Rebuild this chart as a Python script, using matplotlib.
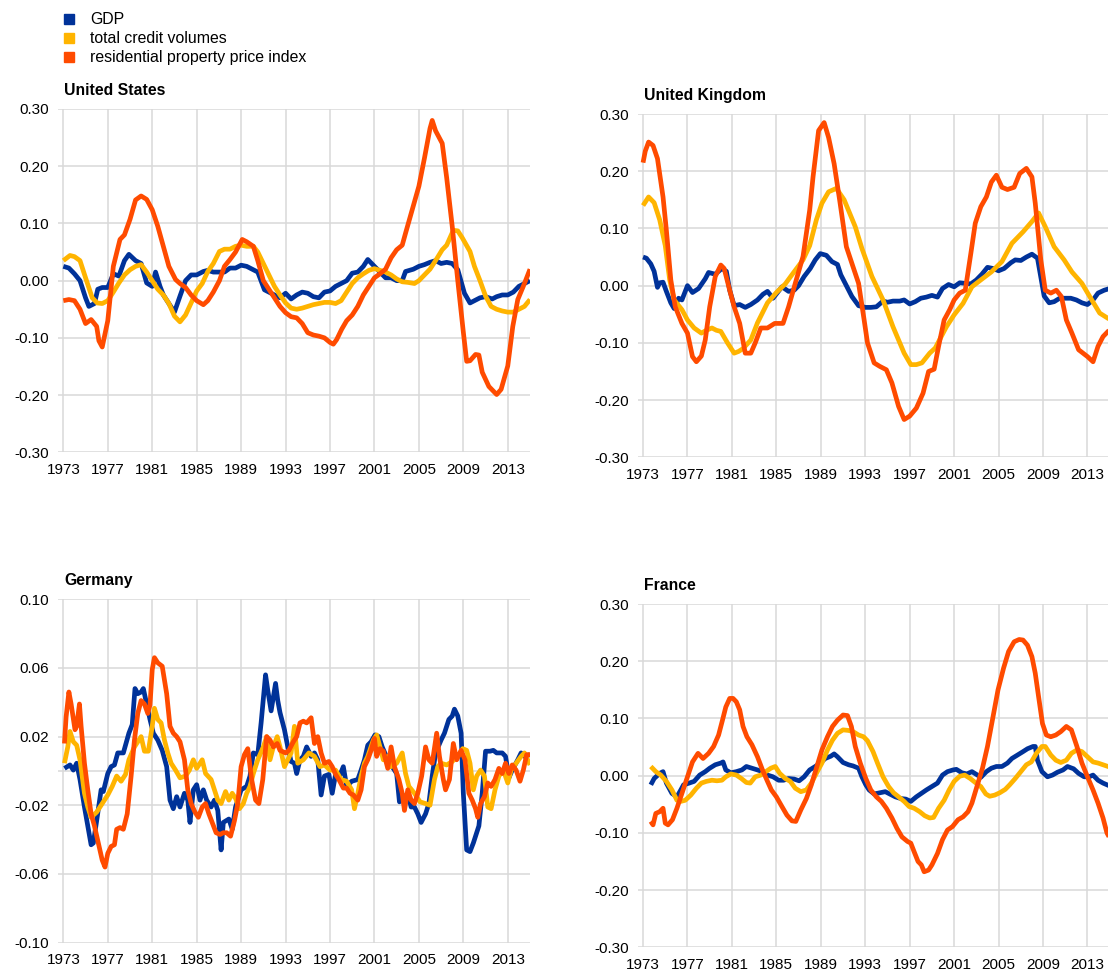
#!/usr/bin/env python3
"""
Cyclical components of GDP, credit and house prices: US, UK, Germany, France
"""

import matplotlib
matplotlib.use('Agg')
import matplotlib.pyplot as plt
from matplotlib.lines import Line2D

# Colours and labels
BLUE = "#003299"
YELLOW = "#FFB400"
ORANGE = "#FF4B00"
GRID = "#d9d9d9"
SERIES_LABELS = ["GDP", "total credit volumes", "residential property price index"]
YEAR_TICKS = list(range(1973, 2014, 4))

# ---- United States (year, value) ----
us_gdp = [(1973.0, 0.025), (1973.5, 0.022), (1974.0, 0.012), (1974.5, 0.0), (1975.0, -0.03), (1975.3, -0.045),
          (1975.8, -0.04), (1976.1, -0.015), (1976.5, -0.012), (1977.0, -0.012), (1977.5, 0.012), (1978.0, 0.008),
          (1978.5, 0.035), (1978.9, 0.046), (1979.5, 0.035), (1980.0, 0.03), (1980.5, -0.004), (1981.0, -0.01),
          (1981.3, 0.015), (1981.7, -0.01), (1982.0, -0.025), (1982.5, -0.04), (1983.0, -0.055), (1983.5, -0.027),
          (1984.0, 0.0), (1984.5, 0.01), (1985.0, 0.01), (1985.6, 0.016), (1986.0, 0.018), (1986.5, 0.015),
          (1987.0, 0.015), (1987.5, 0.015), (1988.0, 0.022), (1988.5, 0.022), (1989.0, 0.027), (1989.5, 0.025),
          (1990.0, 0.02), (1990.5, 0.015), (1991.1, -0.016), (1991.5, -0.02), (1992.0, -0.025), (1992.5, -0.03),
          (1993.0, -0.022), (1993.5, -0.032), (1994.0, -0.025), (1994.5, -0.02), (1995.0, -0.022), (1995.5, -0.028),
          (1996.0, -0.03), (1996.5, -0.02), (1997.0, -0.018), (1997.5, -0.01), (1998.0, -0.005), (1998.5, 0.0),
          (1999.0, 0.013), (1999.5, 0.015), (2000.0, 0.025), (2000.4, 0.037), (2001.0, 0.025), (2001.5, 0.015),
          (2002.0, 0.005), (2002.5, 0.005), (2003.0, 0.0), (2003.5, 0.0), (2003.8, 0.016), (2004.5, 0.02),
          (2005.0, 0.025), (2005.5, 0.028), (2006.0, 0.032), (2006.5, 0.035), (2007.0, 0.03), (2007.5, 0.032),
          (2008.0, 0.03), (2008.5, 0.019), (2009.1, -0.022), (2009.6, -0.039), (2010.0, -0.035), (2010.5, -0.03),
          (2011.0, -0.028), (2011.6, -0.032), (2012.0, -0.028), (2012.5, -0.025), (2013.0, -0.025), (2013.5, -0.02),
          (2014.0, -0.01), (2014.5, -0.005), (2015.0, 0.0)]
us_credit = [(1973.0, 0.035), (1973.6, 0.044), (1974.0, 0.042), (1974.5, 0.035), (1975.0, 0.005), (1975.6, -0.03),
             (1976.05, -0.039), (1976.5, -0.04), (1977.0, -0.035), (1977.5, -0.02), (1978.0, -0.004), (1978.5, 0.01),
             (1979.0, 0.019), (1979.5, 0.025), (1980.0, 0.028), (1980.5, 0.015), (1981.0, 0.0), (1981.5, -0.015),
             (1982.0, -0.025), (1982.5, -0.04), (1983.0, -0.062), (1983.5, -0.072), (1984.0, -0.06), (1984.5, -0.039),
             (1985.0, -0.018), (1985.5, -0.005), (1986.0, 0.016), (1986.5, 0.03), (1987.05, 0.051), (1987.5, 0.055),
             (1988.0, 0.055), (1988.5, 0.06), (1989.0, 0.062), (1989.5, 0.06), (1990.1, 0.06), (1990.5, 0.05),
             (1991.0, 0.03), (1991.5, 0.01), (1992.0, -0.01), (1992.5, -0.025), (1993.0, -0.039), (1993.5, -0.048),
             (1994.0, -0.05), (1994.5, -0.048), (1995.0, -0.045), (1995.5, -0.042), (1996.0, -0.04), (1996.5, -0.038),
             (1997.0, -0.038), (1997.5, -0.04), (1998.0, -0.035), (1998.5, -0.02), (1999.0, -0.005), (1999.5, 0.005),
             (2000.0, 0.012), (2000.5, 0.018), (2001.0, 0.021), (2001.5, 0.018), (2002.0, 0.015), (2002.5, 0.01),
             (2003.0, 0.003), (2003.5, -0.002), (2004.0, -0.003), (2004.6, -0.005), (2005.0, 0.0), (2005.5, 0.01),
             (2006.0, 0.02), (2006.5, 0.035), (2007.1, 0.054), (2007.5, 0.062), (2008.1, 0.088), (2008.5, 0.087),
             (2008.9, 0.075), (2009.6, 0.051), (2010.0, 0.025), (2010.5, 0.0), (2011.0, -0.027), (2011.5, -0.045),
             (2012.0, -0.05), (2012.5, -0.053), (2013.0, -0.055), (2013.5, -0.055), (2014.0, -0.05), (2014.5, -0.045),
             (2015.0, -0.033)]
us_property = [(1973.0, -0.035), (1973.5, -0.033), (1974.0, -0.035), (1974.5, -0.05), (1975.0, -0.075), (1975.5, -0.068),
               (1976.0, -0.08), (1976.2, -0.105), (1976.5, -0.116), (1977.0, -0.07), (1977.5, 0.025), (1978.1, 0.072),
               (1978.5, 0.08), (1979.0, 0.107), (1979.5, 0.141), (1980.0, 0.148), (1980.5, 0.142), (1981.0, 0.124),
               (1981.5, 0.095), (1982.0, 0.06), (1982.5, 0.025), (1983.1, 0.002), (1983.5, -0.005), (1984.0, -0.012),
               (1984.5, -0.025), (1985.0, -0.035), (1985.6, -0.042), (1986.0, -0.035), (1986.5, -0.02), (1987.05, 0.0),
               (1987.5, 0.025), (1988.0, 0.037), (1988.5, 0.05), (1989.1, 0.072), (1989.5, 0.068), (1990.1, 0.06),
               (1990.5, 0.035), (1991.0, 0.0), (1991.5, -0.015), (1992.0, -0.03), (1992.5, -0.045), (1993.0, -0.056),
               (1993.5, -0.063), (1994.0, -0.065), (1994.5, -0.075), (1995.0, -0.091), (1995.5, -0.095), (1996.0, -0.097),
               (1996.5, -0.1), (1997.0, -0.108), (1997.3, -0.111), (1997.6, -0.103), (1998.05, -0.085), (1998.5, -0.07),
               (1999.0, -0.06), (1999.5, -0.045), (2000.0, -0.025), (2000.5, -0.01), (2001.0, 0.005), (2001.5, 0.012),
               (2002.0, 0.02), (2002.5, 0.04), (2003.0, 0.054), (2003.5, 0.062), (2003.8, 0.083), (2004.4, 0.124),
               (2005.0, 0.165), (2005.5, 0.214), (2006.0, 0.266), (2006.2, 0.28), (2006.5, 0.262), (2007.1, 0.24),
               (2007.5, 0.18), (2008.0, 0.095), (2008.5, 0.0), (2009.0, -0.09), (2009.3, -0.141), (2009.6, -0.14),
               (2010.1, -0.129), (2010.4, -0.13), (2010.7, -0.16), (2011.3, -0.185), (2012.0, -0.199), (2012.4, -0.19),
               (2013.0, -0.149), (2013.45, -0.08), (2013.9, -0.033), (2014.5, -0.005), (2015.0, 0.02)]

# ---- United Kingdom ----
uk_gdp = [(1973.0, 0.05), (1973.3, 0.048), (1973.7, 0.038), (1974.0, 0.025), (1974.3, -0.003), (1974.5, 0.005),
          (1974.8, 0.006), (1975.1, -0.01), (1975.5, -0.03), (1975.8, -0.04), (1976.2, -0.022), (1976.5, -0.025),
          (1977.0, 0.0), (1977.45, -0.012), (1978.0, -0.005), (1978.6, 0.012), (1978.9, 0.023), (1979.5, 0.02),
          (1980.1, 0.03), (1980.5, 0.025), (1980.8, -0.008), (1981.2, -0.035), (1981.7, -0.033), (1982.2, -0.038),
          (1982.7, -0.033), (1983.3, -0.025), (1983.8, -0.015), (1984.2, -0.01), (1984.7, -0.022), (1985.5, -0.002),
          (1986.1, -0.01), (1986.6, -0.008), (1987.0, 0.0), (1987.5, 0.016), (1988.05, 0.03), (1988.5, 0.045),
          (1988.95, 0.056), (1989.5, 0.053), (1990.0, 0.042), (1990.5, 0.037), (1990.8, 0.019), (1991.3, 0.0),
          (1991.8, -0.019), (1992.4, -0.035), (1993.0, -0.038), (1993.5, -0.038), (1994.0, -0.037), (1994.6, -0.027),
          (1995.0, -0.029), (1995.5, -0.027), (1996.1, -0.027), (1996.5, -0.025), (1997.0, -0.032), (1997.5, -0.028),
          (1998.0, -0.022), (1998.5, -0.02), (1999.0, -0.017), (1999.5, -0.02), (1999.95, -0.005), (2000.5, 0.002),
          (2001.0, -0.002), (2001.5, 0.005), (2002.0, 0.004), (2002.5, 0.003), (2003.0, 0.01), (2003.5, 0.02),
          (2004.0, 0.032), (2004.5, 0.03), (2005.0, 0.026), (2005.5, 0.03), (2006.1, 0.04), (2006.5, 0.045),
          (2007.0, 0.044), (2007.5, 0.05), (2008.0, 0.055), (2008.5, 0.048), (2008.8, 0.015), (2009.1, -0.018),
          (2009.55, -0.03), (2010.0, -0.028), (2010.5, -0.022), (2011.0, -0.022), (2011.5, -0.022), (2012.0, -0.025),
          (2012.5, -0.03), (2013.0, -0.033), (2013.5, -0.025), (2013.95, -0.013), (2014.5, -0.008), (2015.0, -0.005)]
uk_credit = [(1973.0, 0.14), (1973.5, 0.155), (1974.0, 0.145), (1974.5, 0.115), (1975.0, 0.07), (1975.4, 0.01),
             (1975.8, -0.025), (1976.5, -0.042), (1977.0, -0.06), (1977.6, -0.074), (1978.25, -0.083), (1978.7, -0.078),
             (1979.2, -0.074), (1979.6, -0.078), (1980.0, -0.08), (1980.6, -0.1), (1981.2, -0.118), (1981.6, -0.115),
             (1982.0, -0.11), (1982.7, -0.095), (1983.3, -0.065), (1984.2, -0.03), (1985.0, -0.012), (1985.8, 0.003),
             (1986.4, 0.019), (1987.4, 0.045), (1988.0, 0.07), (1988.6, 0.115), (1989.1, 0.144), (1989.7, 0.164),
             (1990.4, 0.17), (1991.1, 0.15), (1992.1, 0.103), (1992.7, 0.065), (1993.6, 0.016), (1994.6, -0.025),
             (1995.5, -0.072), (1996.5, -0.118), (1997.1, -0.138), (1997.6, -0.138), (1998.1, -0.135), (1998.8, -0.118),
             (1999.3, -0.109), (2000.3, -0.072), (2001.0, -0.051), (2001.8, -0.031), (2002.6, -0.002), (2003.4, 0.01),
             (2004.35, 0.024), (2005.3, 0.042), (2006.2, 0.074), (2007.2, 0.094), (2008.0, 0.112), (2008.6, 0.127),
             (2009.2, 0.103), (2010.0, 0.068), (2010.9, 0.045), (2011.6, 0.024), (2012.5, 0.004), (2013.2, -0.019),
             (2014.1, -0.048), (2015.0, -0.059)]
uk_property = [(1973.0, 0.215), (1973.2, 0.235), (1973.5, 0.251), (1973.9, 0.245), (1974.3, 0.222), (1974.8, 0.155),
               (1975.1, 0.097), (1975.5, 0.01), (1975.9, -0.037), (1976.5, -0.066), (1977.0, -0.083), (1977.45, -0.124),
               (1977.8, -0.133), (1978.25, -0.123), (1978.6, -0.095), (1979.0, -0.037), (1979.5, 0.016), (1980.0, 0.036),
               (1980.3, 0.03), (1980.8, -0.008), (1981.2, -0.037), (1981.7, -0.066), (1982.2, -0.118), (1982.7, -0.118),
               (1983.1, -0.1), (1983.6, -0.074), (1984.2, -0.074), (1984.85, -0.066), (1985.6, -0.066), (1986.1, -0.037),
               (1986.7, 0.004), (1987.4, 0.051), (1988.0, 0.132), (1988.3, 0.19), (1988.8, 0.271), (1989.3, 0.285),
               (1989.7, 0.259), (1990.2, 0.213), (1990.7, 0.149), (1991.3, 0.068), (1991.9, 0.033), (1992.4, 0.004),
               (1992.9, -0.06), (1993.2, -0.1), (1993.8, -0.135), (1994.3, -0.141), (1994.9, -0.147), (1995.4, -0.17),
               (1996.0, -0.211), (1996.5, -0.234), (1997.0, -0.228), (1997.6, -0.214), (1998.2, -0.188), (1998.7, -0.15),
               (1999.2, -0.146), (1999.6, -0.106), (2000.1, -0.06), (2000.6, -0.042), (2001.0, -0.025), (2001.5, -0.013),
               (2002.0, -0.008), (2002.5, 0.056), (2002.9, 0.109), (2003.4, 0.138), (2003.9, 0.155), (2004.35, 0.181),
               (2004.8, 0.193), (2005.3, 0.172), (2005.8, 0.168), (2006.4, 0.172), (2006.9, 0.196), (2007.5, 0.205),
               (2008.0, 0.19), (2008.3, 0.144), (2008.8, 0.045), (2009.2, -0.008), (2009.7, -0.013), (2010.2, -0.008),
               (2010.65, -0.019), (2011.1, -0.06), (2011.6, -0.083), (2012.2, -0.112), (2013.0, -0.124), (2013.5, -0.133),
               (2013.95, -0.106), (2014.4, -0.089), (2015.0, -0.077)]

# ---- Germany ----
de_gdp = [(1973.1, 0.0015), (1973.6, 0.0035), (1973.9, 0.0005), (1974.2, 0.0045), (1974.5, -0.005), (1974.9, -0.021),
          (1975.2, -0.032), (1975.5, -0.043), (1975.7, -0.042), (1976.0, -0.029), (1976.4, -0.011), (1976.6, -0.012),
          (1977.0, -0.0015), (1977.3, 0.0025), (1977.6, 0.0035), (1977.9, 0.0105), (1978.4, 0.0105), (1978.9, 0.022),
          (1979.2, 0.027), (1979.45, 0.048), (1979.7, 0.045), (1980.0, 0.046), (1980.2, 0.048), (1980.5, 0.039),
          (1980.8, 0.03), (1981.1, 0.022), (1981.5, 0.018), (1981.9, 0.012), (1982.3, 0.0025), (1982.6, -0.017),
          (1982.9, -0.022), (1983.2, -0.015), (1983.5, -0.021), (1983.9, -0.013), (1984.2, -0.017), (1984.4, -0.03),
          (1984.7, -0.011), (1985.0, -0.008), (1985.3, -0.017), (1985.6, -0.011), (1985.9, -0.017), (1986.3, -0.021),
          (1986.6, -0.017), (1986.9, -0.023), (1987.2, -0.046), (1987.4, -0.03), (1987.9, -0.028), (1988.2, -0.034),
          (1988.5, -0.021), (1989.0, -0.011), (1989.5, -0.009), (1989.8, -0.003), (1990.1, 0.0105), (1990.5, 0.0095),
          (1990.8, 0.028), (1991.2, 0.056), (1991.4, 0.047), (1991.7, 0.035), (1992.1, 0.051), (1992.3, 0.041),
          (1992.5, 0.034), (1992.9, 0.024), (1993.2, 0.014), (1993.5, 0.0055), (1993.8, 0.0045), (1994.0, -0.0015),
          (1994.3, 0.0065), (1994.6, 0.0085), (1994.9, 0.014), (1995.3, 0.0085), (1995.6, 0.0105), (1995.9, 0.0065),
          (1996.2, -0.014), (1996.5, -0.003), (1996.9, -0.002), (1997.2, -0.013), (1997.5, -0.002), (1997.8, -0.004),
          (1998.2, 0.0025), (1998.5, -0.009), (1998.95, -0.006), (1999.5, -0.005), (1999.8, 0.0005), (2000.1, 0.0065),
          (2000.4, 0.015), (2000.7, 0.017), (2001.05, 0.021), (2001.4, 0.02), (2001.7, 0.014), (2002.0, 0.0095),
          (2002.3, 0.0045), (2002.7, 0.0015), (2003.0, -0.0015), (2003.25, -0.018), (2003.6, -0.016), (2004.0, -0.013),
          (2004.3, -0.021), (2004.6, -0.021), (2004.9, -0.025), (2005.2, -0.03), (2005.6, -0.025), (2005.9, -0.019),
          (2006.2, -0.003), (2006.5, 0.0105), (2007.0, 0.018), (2007.3, 0.022), (2007.7, 0.03), (2008.0, 0.032),
          (2008.2, 0.036), (2008.5, 0.032), (2008.8, 0.022), (2009.0, -0.013), (2009.3, -0.046), (2009.6, -0.047),
          (2009.9, -0.042), (2010.4, -0.032), (2010.7, -0.013), (2011.0, 0.0115), (2011.4, 0.0115), (2011.7, 0.012),
          (2012.0, 0.0105), (2012.5, 0.0105), (2012.8, 0.0085), (2013.1, -0.004), (2013.4, 0.0005), (2013.9, 0.0065),
          (2014.2, 0.0105), (2014.5, 0.0085), (2015.0, 0.0095)]
de_credit = [(1973.1, 0.0045), (1973.4, 0.014), (1973.6, 0.023), (1973.9, 0.017), (1974.2, 0.015), (1974.5, 0.0065),
             (1974.9, -0.013), (1975.2, -0.021), (1975.5, -0.027), (1976.0, -0.024), (1976.5, -0.019), (1977.0, -0.014),
             (1977.4, -0.009), (1977.8, -0.003), (1978.2, -0.006), (1978.6, -0.002), (1978.9, 0.0065), (1979.4, 0.014),
             (1979.7, 0.017), (1980.0, 0.02), (1980.3, 0.0115), (1980.65, 0.0115), (1981.0, 0.026), (1981.2, 0.0365),
             (1981.5, 0.03), (1981.8, 0.028), (1982.1, 0.018), (1982.4, 0.0105), (1982.7, 0.0045), (1983.1, 0.0005),
             (1983.5, -0.004), (1984.0, -0.003), (1984.35, 0.0005), (1984.7, 0.0065), (1985.0, 0.0015), (1985.5, 0.0065),
             (1985.8, -0.0015), (1986.3, -0.005), (1986.6, -0.011), (1986.9, -0.017), (1987.2, -0.019), (1987.6, -0.012),
             (1987.9, -0.017), (1988.2, -0.013), (1988.5, -0.016), (1988.85, -0.022), (1989.2, -0.019), (1989.5, -0.013),
             (1989.8, -0.009), (1990.1, -0.0015), (1990.5, 0.0065), (1991.0, 0.014), (1991.3, 0.02), (1991.6, 0.0065),
             (1991.9, 0.014), (1992.25, 0.02), (1992.5, 0.014), (1992.9, 0.0025), (1993.2, 0.0065), (1993.5, 0.0105),
             (1993.8, 0.026), (1994.1, 0.0045), (1994.6, 0.0065), (1995.1, 0.0105), (1995.6, 0.0085), (1996.1, 0.0025),
             (1996.5, 0.0035), (1997.0, 0.0005), (1997.5, 0.0005), (1998.0, -0.005), (1998.5, -0.006), (1998.95, -0.011),
             (1999.2, -0.022), (1999.5, -0.013), (1999.8, -0.003), (2000.1, 0.0045), (2000.4, 0.0085), (2000.9, 0.018),
             (2001.2, 0.021), (2001.5, 0.014), (2001.8, 0.0065), (2002.2, 0.0085), (2002.5, 0.0025), (2003.0, 0.0045),
             (2003.5, 0.0105), (2003.8, -0.0015), (2004.1, -0.009), (2004.6, -0.013), (2005.1, -0.018), (2005.6, -0.019),
             (2006.0, -0.02), (2006.4, -0.005), (2006.7, 0.0025), (2007.0, 0.0045), (2007.5, 0.0035), (2008.0, 0.0055),
             (2008.5, 0.0085), (2008.95, 0.013), (2009.3, 0.012), (2009.6, 0.0045), (2009.9, -0.011), (2010.2, -0.003),
             (2010.55, 0.0005), (2010.9, -0.003), (2011.2, -0.021), (2011.5, -0.022), (2011.85, -0.011), (2012.2, -0.003),
             (2012.6, 0.0005), (2013.0, -0.007), (2013.3, 0.0005), (2013.75, 0.0045), (2014.2, 0.0085), (2014.5, 0.0105),
             (2015.0, 0.0035)]
de_property = [(1973.1, 0.016), (1973.25, 0.0315), (1973.5, 0.046), (1973.7, 0.039), (1974.05, 0.024), (1974.2, 0.026),
               (1974.45, 0.039), (1974.6, 0.026), (1974.9, 0.0045), (1975.2, -0.011), (1975.5, -0.025), (1975.8, -0.032),
               (1976.15, -0.042), (1976.5, -0.052), (1976.75, -0.056), (1977.0, -0.048), (1977.3, -0.044), (1977.6, -0.043),
               (1977.8, -0.034), (1978.1, -0.033), (1978.4, -0.034), (1978.75, -0.025), (1979.1, -0.003), (1979.4, 0.018),
               (1979.7, 0.0335), (1980.0, 0.041), (1980.3, 0.039), (1980.6, 0.0335), (1980.8, 0.0385), (1981.0, 0.059),
               (1981.2, 0.066), (1981.5, 0.063), (1981.9, 0.061), (1982.3, 0.045), (1982.6, 0.026), (1982.9, 0.022),
               (1983.2, 0.02), (1983.5, 0.017), (1983.9, 0.0065), (1984.2, -0.011), (1984.5, -0.019), (1984.85, -0.024),
               (1985.15, -0.027), (1985.5, -0.021), (1985.8, -0.019), (1986.1, -0.025), (1986.4, -0.03), (1986.75, -0.036),
               (1987.1, -0.037), (1987.4, -0.036), (1987.7, -0.036), (1988.05, -0.038), (1988.4, -0.029), (1988.7, -0.019),
               (1989.0, 0.0025), (1989.3, 0.0095), (1989.6, 0.013), (1989.95, -0.005), (1990.3, -0.017), (1990.6, -0.019),
               (1990.95, -0.005), (1991.3, 0.02), (1991.6, 0.018), (1991.9, 0.014), (1992.25, 0.016), (1992.5, 0.012),
               (1993.0, 0.0105), (1993.3, 0.012), (1993.7, 0.017), (1994.0, 0.02), (1994.3, 0.028), (1994.6, 0.029),
               (1994.9, 0.028), (1995.3, 0.031), (1995.6, 0.016), (1995.9, 0.02), (1996.2, 0.0105), (1996.5, 0.0045),
               (1996.9, 0.0055), (1997.2, 0.0025), (1997.5, -0.002), (1997.8, -0.005), (1998.2, -0.01), (1998.5, -0.01),
               (1998.8, -0.013), (1999.1, -0.014), (1999.5, -0.017), (1999.8, -0.011), (2000.1, 0.0025), (2000.4, 0.0065),
               (2000.7, 0.012), (2001.0, 0.019), (2001.2, 0.0085), (2001.5, 0.013), (2001.8, 0.0115), (2002.2, 0.0015),
               (2002.5, 0.014), (2002.8, 0.0025), (2003.2, -0.005), (2003.5, -0.013), (2003.7, -0.023), (2004.0, -0.011),
               (2004.3, -0.017), (2004.6, -0.019), (2004.9, -0.013), (2005.25, -0.003), (2005.6, 0.014), (2005.9, 0.0065),
               (2006.2, 0.0045), (2006.6, 0.022), (2006.85, 0.0085), (2007.2, -0.005), (2007.4, -0.011), (2007.75, -0.005),
               (2008.1, 0.016), (2008.4, 0.0065), (2008.8, 0.012), (2009.15, 0.0065), (2009.5, -0.013), (2009.8, -0.017),
               (2010.1, -0.022), (2010.3, -0.027), (2010.55, -0.019), (2010.9, -0.015), (2011.2, -0.007), (2011.5, -0.009),
               (2011.85, -0.005), (2012.2, 0.0015), (2012.5, -0.0015), (2012.8, 0.0045), (2013.1, -0.0015), (2013.4, 0.0035),
               (2013.75, 0.0005), (2014.1, -0.006), (2014.4, 0.0005), (2014.7, 0.0095), (2015.0, 0.0095)]

# ---- France ----
fr_gdp = [(1973.7, -0.016), (1974.0, -0.005), (1974.5, 0.004), (1974.8, 0.007), (1975.1, -0.013), (1975.6, -0.031),
          (1976.05, -0.037), (1976.4, -0.025), (1976.65, -0.016), (1977.15, -0.013), (1977.6, -0.01), (1978.1, 0.001),
          (1978.6, 0.007), (1979.0, 0.013), (1979.5, 0.019), (1980.0, 0.022), (1980.2, 0.024), (1980.45, 0.01),
          (1980.9, 0.005), (1981.4, 0.007), (1981.9, 0.01), (1982.3, 0.016), (1982.8, 0.013), (1983.3, 0.01),
          (1983.75, 0.007), (1984.2, 0.001), (1984.7, -0.002), (1985.2, -0.008), (1985.65, -0.008), (1986.1, -0.005),
          (1986.6, -0.006), (1987.05, -0.009), (1987.5, -0.002), (1988.0, 0.01), (1988.5, 0.016), (1988.95, 0.022),
          (1989.4, 0.03), (1989.9, 0.034), (1990.2, 0.038), (1990.5, 0.033), (1991.0, 0.023), (1991.5, 0.019),
          (1991.9, 0.017), (1992.4, 0.013), (1992.7, -0.002), (1993.05, -0.016), (1993.35, -0.025), (1993.8, -0.032),
          (1994.3, -0.03), (1994.8, -0.028), (1995.2, -0.032), (1995.7, -0.037), (1996.2, -0.04), (1996.65, -0.041),
          (1997.1, -0.045), (1997.6, -0.037), (1998.05, -0.031), (1998.5, -0.025), (1999.0, -0.019), (1999.5, -0.013),
          (1999.95, 0.001), (2000.4, 0.007), (2000.9, 0.01), (2001.2, 0.011), (2001.7, 0.005), (2002.15, 0.003),
          (2002.6, 0.007), (2003.1, 0.001), (2003.4, -0.003), (2003.9, 0.007), (2004.35, 0.013), (2004.8, 0.016),
          (2005.3, 0.016), (2005.8, 0.022), (2006.2, 0.03), (2006.7, 0.036), (2007.2, 0.042), (2007.6, 0.047),
          (2008.1, 0.051), (2008.3, 0.051), (2008.5, 0.027), (2008.9, 0.007), (2009.4, -0.002), (2009.85, 0.001),
          (2010.3, 0.006), (2010.8, 0.01), (2011.2, 0.016), (2011.75, 0.012), (2012.2, 0.004), (2012.7, -0.002),
          (2013.15, -0.002), (2013.5, 0.001), (2013.95, -0.008), (2014.4, -0.013), (2015.0, -0.018)]
fr_credit = [(1973.7, 0.016), (1974.15, 0.007), (1974.6, 0.001), (1975.1, -0.01), (1975.6, -0.025), (1976.05, -0.043),
             (1976.4, -0.045), (1976.8, -0.043), (1977.3, -0.034), (1977.8, -0.022), (1978.25, -0.013), (1978.7, -0.01),
             (1979.2, -0.008), (1979.65, -0.009), (1980.1, -0.008), (1980.45, -0.002), (1980.9, 0.003), (1981.4, 0.001),
             (1981.85, -0.005), (1982.3, -0.012), (1982.65, -0.013), (1983.1, -0.002), (1983.6, 0.001), (1984.05, 0.007),
             (1984.5, 0.013), (1984.9, 0.016), (1985.3, 0.004), (1985.8, -0.005), (1986.25, -0.01), (1986.7, -0.022),
             (1987.2, -0.028), (1987.7, -0.025), (1988.15, -0.013), (1988.6, 0.004), (1989.1, 0.022), (1989.6, 0.045),
             (1990.05, 0.062), (1990.5, 0.074), (1991.0, 0.08), (1991.5, 0.079), (1991.9, 0.077), (1992.4, 0.071),
             (1992.85, 0.068), (1993.2, 0.061), (1993.7, 0.042), (1994.1, 0.022), (1994.6, -0.002), (1995.1, -0.019),
             (1995.55, -0.03), (1996.0, -0.037), (1996.5, -0.045), (1996.95, -0.054), (1997.4, -0.057), (1997.9, -0.063),
             (1998.35, -0.07), (1998.8, -0.074), (1999.15, -0.073), (1999.6, -0.057), (2000.1, -0.043), (2000.55, -0.025),
             (2001.0, -0.01), (2001.5, -0.001), (2001.95, 0.001), (2002.45, -0.005), (2002.9, -0.012), (2003.4, -0.019),
             (2003.85, -0.032), (2004.2, -0.036), (2004.65, -0.034), (2005.1, -0.03), (2005.6, -0.024), (2006.0, -0.016),
             (2006.5, -0.005), (2007.0, 0.007), (2007.5, 0.019), (2007.95, 0.024), (2008.4, 0.039), (2008.9, 0.051),
             (2009.2, 0.051), (2009.7, 0.036), (2010.15, 0.027), (2010.6, 0.023), (2011.1, 0.027), (2011.55, 0.039),
             (2012.05, 0.045), (2012.5, 0.042), (2013.0, 0.033), (2013.5, 0.024), (2013.95, 0.022), (2014.4, 0.019),
             (2015.0, 0.015)]
fr_property = [(1973.7, -0.08), (1973.9, -0.086), (1974.15, -0.066), (1974.5, -0.063), (1974.8, -0.057), (1975.0, -0.083),
               (1975.25, -0.086), (1975.65, -0.077), (1976.05, -0.057), (1976.5, -0.031), (1977.0, -0.002), (1977.45, 0.024),
               (1977.95, 0.039), (1978.4, 0.03), (1978.9, 0.039), (1979.35, 0.051), (1979.8, 0.071), (1980.15, 0.097),
               (1980.45, 0.12), (1980.8, 0.135), (1981.1, 0.135), (1981.4, 0.129), (1981.7, 0.115), (1982.0, 0.086),
               (1982.35, 0.068), (1982.8, 0.054), (1983.3, 0.033), (1983.75, 0.01), (1984.2, -0.01), (1984.55, -0.025),
               (1985.0, -0.037), (1985.5, -0.054), (1985.95, -0.069), (1986.4, -0.079), (1986.75, -0.08), (1987.2, -0.06),
               (1987.7, -0.04), (1988.15, -0.016), (1988.6, 0.013), (1989.1, 0.045), (1989.6, 0.068), (1990.05, 0.086),
               (1990.5, 0.097), (1991.0, 0.106), (1991.4, 0.105), (1991.75, 0.086), (1992.1, 0.051), (1992.55, 0.022),
               (1993.05, -0.005), (1993.5, -0.025), (1994.0, -0.037), (1994.45, -0.045), (1994.9, -0.057), (1995.4, -0.074),
               (1995.85, -0.092), (1996.3, -0.107), (1996.8, -0.115), (1997.1, -0.118), (1997.4, -0.133), (1997.75, -0.15),
               (1998.05, -0.156), (1998.3, -0.168), (1998.7, -0.165), (1999.0, -0.156), (1999.5, -0.136), (1999.95, -0.112),
               (2000.4, -0.095), (2000.85, -0.089), (2001.35, -0.077), (2001.8, -0.072), (2002.25, -0.063), (2002.6, -0.048),
               (2003.05, -0.019), (2003.55, 0.013), (2004.0, 0.051), (2004.5, 0.103), (2004.95, 0.15), (2005.45, 0.188),
               (2005.9, 0.217), (2006.4, 0.234), (2006.85, 0.238), (2007.2, 0.237), (2007.6, 0.228), (2008.0, 0.208),
               (2008.3, 0.179), (2008.6, 0.138), (2008.95, 0.091), (2009.3, 0.071), (2009.7, 0.068), (2010.15, 0.071),
               (2010.6, 0.077), (2011.1, 0.086), (2011.55, 0.08), (2012.05, 0.051), (2012.5, 0.022), (2013.0, -0.002),
               (2013.5, -0.025), (2013.95, -0.048), (2014.4, -0.074), (2014.75, -0.1), (2015.0, -0.109)]

plt.rcParams['font.family'] = ['Liberation Sans', 'DejaVu Sans']

fig = plt.figure(figsize=(11.08, 9.73), dpi=100)

W, H = 1108.0, 973.0
AX_W, AX_H = 472.0 / W, 343.3 / H


def add_panel(left_px, bottom_px, title, series, yticks, ylabels, zero_line=False):
    ax = fig.add_axes([left_px / W, 1 - bottom_px / H, AX_W, AX_H])
    ax.set_xlim(1972.52, 2015.0)
    ax.set_ylim(yticks[0], yticks[-1])
    ax.set_xticks(YEAR_TICKS)
    ax.set_xticklabels([str(y) for y in YEAR_TICKS])
    ax.set_yticks(yticks)
    ax.set_yticklabels(ylabels)
    ax.grid(True, color=GRID, linewidth=1.1)
    ax.set_axisbelow(True)
    if zero_line:
        ax.axhline(0, color=GRID, linewidth=1.1, zorder=0.5)
    for s in ax.spines.values():
        s.set_visible(False)
    ax.tick_params(axis='both', length=0, labelsize=11, colors='#000000')
    ax.tick_params(axis='y', pad=6.5)
    ax.tick_params(axis='x', pad=7.5)
    for data, colour in zip(series, [BLUE, YELLOW, ORANGE]):
        xs, ys = zip(*data)
        ax.plot(xs, ys, color=colour, linewidth=3.4, solid_joinstyle='round',
                solid_capstyle='butt', clip_on=True)
    ax.annotate(title, xy=(0, 1), xycoords='axes fraction', xytext=(4.5, 10),
                textcoords='offset points', fontsize=11.3, fontweight='bold',
                ha='left', va='baseline')
    return ax


big_ticks = [-0.30, -0.20, -0.10, 0.0, 0.10, 0.20, 0.30]
big_labels = ["-0.30", "-0.20", "-0.10", "0.00", "0.10", "0.20", "0.30"]
de_ticks = [-0.10, -0.06, -0.02, 0.02, 0.06, 0.10]
de_labels = ["-0.10", "-0.06", "-0.02", "0.02", "0.06", "0.10"]

add_panel(58, 452.3, "United States", [us_gdp, us_credit, us_property], big_ticks, big_labels)
add_panel(637.7, 457.3, "United Kingdom", [uk_gdp, uk_credit, uk_property], big_ticks, big_labels)
add_panel(58, 942.6, "Germany", [de_gdp, de_credit, de_property], de_ticks, de_labels, zero_line=True)
add_panel(637.7, 947.3, "France", [fr_gdp, fr_credit, fr_property], big_ticks, big_labels)

# Legend top-left
handles = [Line2D([], [], marker='s', linestyle='none', color=c, markersize=7)
           for c in [BLUE, YELLOW, ORANGE]]
fig.legend(handles, SERIES_LABELS, loc='upper left', bbox_to_anchor=(61.1 / W, 1 - 12.5 / H),
           frameon=False, fontsize=11.4, handlelength=1.0, handletextpad=0.83,
           labelspacing=0.25, borderpad=0, borderaxespad=0)

fig.savefig('out.png', dpi=100)
